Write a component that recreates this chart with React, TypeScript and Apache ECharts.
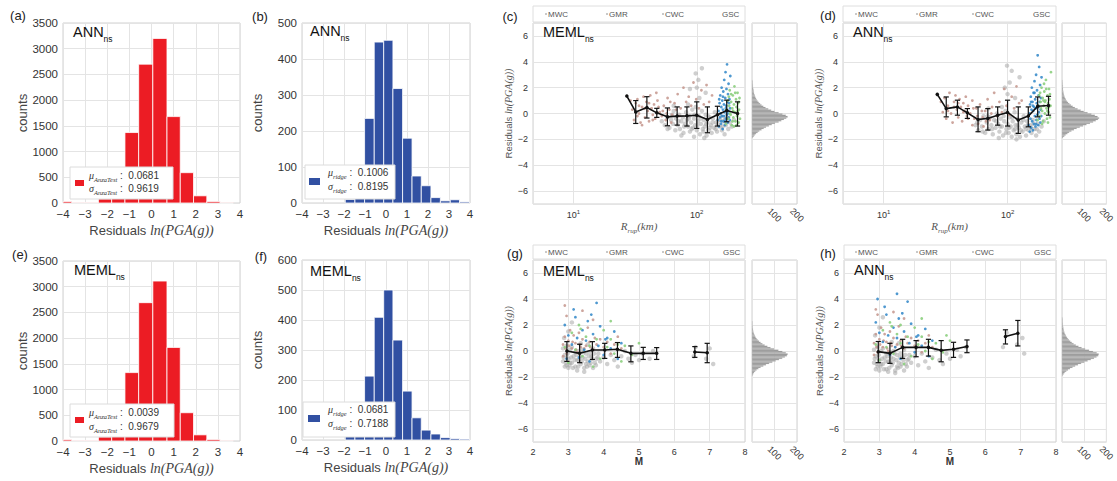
import React, { useEffect, useRef } from 'react';
import * as echarts from 'echarts';

const SANS = '"Liberation Sans", Arial, sans-serif';
const SERIF = '"Liberation Serif", "DejaVu Serif", serif';
const TICK = '#333';
const GRIDLINE = '#e4e4e4';
const BORDER = '#d0d0d0';
const RED = '#ec1c24';
const BLUE = '#3150a2';
const C_GRAY = '#a8a8a8';
const C_BROWN = '#c4958c';
const C_BLUE = '#2f86c8';
const C_GREEN = '#8ccf7e';

// ---------- histogram data (bin edges, counts) ----------
const EDGES_A = [-4.0, -3.6, -3.0, -2.4, -1.8, -1.2, -0.58, 0.06, 0.7, 1.3, 1.9, 2.5, 3.1, 3.7];
const COUNTS_A = [30, 8, 10, 80, 420, 1370, 2700, 3200, 1680, 590, 140, 30, 5];
const EDGES_E = [-4.0, -3.6, -3.0, -2.4, -1.8, -1.2, -0.58, 0.06, 0.7, 1.3, 1.9, 2.5, 3.1, 3.7];
const COUNTS_E = [25, 8, 10, 80, 420, 1330, 2690, 3110, 1820, 550, 120, 30, 5];
const EDGES_B = [-1.94, -1.48, -1.02, -0.56, -0.11, 0.33, 0.79, 1.24, 1.68, 2.14, 2.59, 3.06, 3.5, 3.98];
const COUNTS_B = [10, 50, 235, 447, 452, 318, 180, 75, 48, 15, 6, 9, 3];
const EDGES_F = [-1.94, -1.48, -1.02, -0.56, -0.11, 0.33, 0.79, 1.24, 1.68, 2.14, 2.59, 3.06, 3.5, 3.98];
const COUNTS_F = [12, 40, 213, 409, 500, 333, 163, 74, 33, 20, 8, 5, 3];

const LEGEND_A = { mu: '0.0681', sigma: '0.9619', sub: 'AnzaTest' };
const LEGEND_B = { mu: '0.1006', sigma: '0.8195', sub: 'ridge' };
const LEGEND_E = { mu: '0.0039', sigma: '0.9679', sub: 'AnzaTest' };
const LEGEND_F = { mu: '0.0681', sigma: '0.7188', sub: 'ridge' };

// ---------- marginal histograms: bins of 0.1 starting at -1.9 ----------
const SIDE_START = -1.9;
const SIDE_STEP = 0.1;
const SIDE_C = [3, 8, 12, 18, 25, 32, 42, 52, 62, 75, 88, 102, 118, 130, 142, 152, 158, 150, 135, 118, 100, 85, 72, 60, 50, 42, 36, 30, 25, 21, 18, 15, 13, 11, 9, 8, 7, 6, 5, 4, 3, 3, 2, 2, 1];
const SIDE_D = [4, 10, 16, 24, 32, 42, 54, 66, 80, 95, 110, 126, 140, 152, 162, 167, 160, 148, 132, 115, 98, 84, 70, 58, 48, 40, 33, 27, 22, 18, 15, 12, 10, 8, 7, 6, 5, 4, 4, 3, 3, 2, 2, 1, 1];
const SIDE_G = [2, 5, 9, 14, 20, 28, 38, 50, 62, 76, 90, 105, 120, 134, 146, 155, 158, 150, 135, 117, 98, 82, 68, 56, 46, 38, 31, 25, 20, 16, 13, 10, 8, 6, 5, 4, 3, 2, 2, 1, 1, 1, 0, 0, 0];
const SIDE_H = [3, 7, 12, 19, 27, 36, 47, 59, 72, 86, 100, 115, 130, 144, 155, 163, 165, 156, 140, 122, 104, 88, 74, 62, 52, 44, 37, 31, 26, 22, 18, 15, 12, 10, 8, 7, 6, 5, 4, 3, 3, 2, 2, 2, 1];

// ---------- binned means: [x, mean, low, high] ----------
const MEANS_C = [[27.1, 1.35, 1.35, 1.35], [32, 0.12, -0.77, 1.0], [39.4, 0.46, -0.35, 1.3], [47.4, 0.05, -0.3, 0.4], [57.8, -0.26, -0.95, 0.43], [69.3, -0.2, -0.9, 0.51], [83.2, -0.18, -0.97, 0.51], [100, -0.13, -1.15, 0.9], [122, -0.47, -1.49, 0.51], [147, -0.1, -0.97, 0.56], [175, 0.23, -0.64, 1.03], [214, 0.0, -0.97, 0.9]];
const MEANS_D = [[27.1, 1.48, 1.48, 1.48], [32, 0.38, -0.26, 1.28], [39.4, 0.51, -0.13, 1.03], [47.4, 0.05, -0.38, 0.38], [57.8, -0.46, -1.41, 0.51], [69.3, -0.38, -1.28, 0.38], [83.2, -0.13, -0.9, 0.51], [100, 0.08, -0.97, 1.03], [122, -0.51, -1.54, 0.51], [147, -0.2, -1.03, 0.51], [175, 0.56, -0.26, 1.28], [214, 0.62, -0.13, 1.33]];
const MEANS_G = [[2.96, 0, -0.8, 0.72], [3.32, -0.18, -0.9, 0.52], [3.68, 0.08, -0.65, 0.72], [4.03, 0.08, -0.57, 0.59], [4.39, 0.13, -0.49, 0.65], [4.77, -0.18, -0.83, 0.39], [5.12, -0.18, -0.65, 0.28], [5.5, -0.18, -0.65, 0.26], [6.58, -0.08, -0.49, 0.34], [6.93, -0.13, -0.9, 0.59]];
const MEANS_H = [[2.97, -0.05, -0.9, 0.73], [3.3, -0.18, -0.95, 0.59], [3.66, 0.28, -0.57, 0.9], [4.04, 0.28, -0.44, 0.8], [4.39, 0.28, -0.39, 0.9], [4.75, 0.05, -0.83, 0.8], [5.1, 0.13, -0.49, 0.67], [5.48, 0.35, -0.13, 0.85], [6.57, 1.11, 0.54, 1.63], [6.92, 1.37, 0.39, 2.35]];
// no bin has data between these magnitudes, so the mean line is broken there
const M_EMPTY_FROM = 5.6;
const M_EMPTY_TO = 6.5;

// ---------- residual scatter points: [x, residual] ----------
const C_GRAY_PTS = [[52,-0.6],[55,-0.9],[58,-0.3],[60,-1.1],[62,-0.5],[64,-0.8],[65,0.2],[67,-1.3],[68,-0.4],[70,-0.9],[72,-0.1],[73,-1.2],[75,-0.6],[77,-0.3],[78,-1.5],[80,-0.8],[82,0.1],[83,-0.5],[85,-1.0],[87,-0.2],[88,-1.4],[90,-0.7],[92,0.3],[93,-1.1],[95,-0.4],[97,-0.9],[98,0.5],[100,-1.3],[102,-0.6],[104,-0.2],[106,-1.6],[108,-0.8],[110,0.2],[112,-1.2],[114,-0.5],[116,-1.0],[118,-0.1],[120,-1.7],[122,-0.7],[125,-1.3],[127,-0.3],[130,-0.9],[132,-1.5],[135,-0.4],[138,-1.1],[140,0.1],[143,-0.7],[146,-1.4],[150,-0.5],[153,-1.0],[157,-0.2],[160,-1.3],[164,-0.6],[168,-1.6],[172,-0.9],[176,-0.3],[180,-1.2],[186,-0.7],[192,-1.0],[200,-0.5],[75,-1.7],[95,-1.8],[115,-1.9],[65,0.6],[85,0.7],[105,1.2],[100,2.0],[98,3.1],[103,2.6],[118,1.6],[88,1.9],[110,3.5],[58,-1.2],[63,-0.1],[71,-0.6],[79,-1.0],[86,-0.4],[91,-1.2],[96,-0.1],[101,-0.9],[107,-0.4],[113,-1.4],[119,-0.8],[124,-0.2],[128,-1.1],[134,-0.7],[142,-1.2],[148,-0.8],[155,-0.5],[162,-1.0],[170,-0.4]];
const C_BROWN_PTS = [[30,0.3],[31,-0.5],[32,0.8],[33,-0.2],[33,1.1],[34,0.0],[35,-0.7],[36,0.5],[37,1.3],[38,-0.3],[39,0.9],[40,0.2],[41,-0.6],[42,1.4],[43,0.4],[44,-0.1],[45,0.7],[46,-0.4],[48,1.0],[50,0.1],[52,-0.2],[54,0.6],[56,-0.5],[58,1.2],[60,0.3],[63,-0.1],[66,0.8],[70,1.5],[74,0.4],[78,2.0],[82,0.9],[86,1.3],[90,0.6],[94,2.4],[99,1.1],[104,0.4],[109,1.8],[114,0.7],[120,2.2],[126,0.9],[133,1.4],[36,-0.9],[47,1.6],[62,-0.7],[29,1.0],[34,0.6],[38,0.4],[41,0.8],[44,-0.5],[49,0.5],[53,0.2],[57,0.0],[61,0.9],[68,0.3],[72,-0.2]];
const C_BLUE_PTS = [[148,-0.5],[150,0.2],[151,-1.0],[153,0.8],[154,-0.3],[155,1.4],[156,0.0],[157,-0.8],[158,0.5],[159,2.0],[160,-0.2],[161,1.0],[162,-1.2],[163,0.3],[164,1.7],[165,-0.6],[166,0.7],[167,2.6],[168,0.1],[169,-0.9],[170,1.2],[171,3.2],[172,-0.4],[173,0.6],[174,1.9],[175,-0.1],[176,3.8],[177,0.9],[178,-0.7],[179,1.5],[180,0.2],[181,2.3],[182,-0.3],[183,0.8],[184,1.1],[185,-0.5],[186,0.4],[187,2.9],[152,1.1],[158,-0.6],[166,-0.2],[172,0.4],[178,0.0],[163,1.3],[170,-0.6]];
const C_GREEN_PTS = [[172,-0.8],[175,0.3],[178,1.0],[180,-0.4],[183,0.6],[185,1.8],[188,-0.1],[190,0.9],[192,-0.9],[194,0.4],[196,1.4],[198,-0.3],[200,0.7],[202,2.1],[204,0.1],[206,-0.6],[208,1.1],[210,0.5],[212,-0.2],[214,1.6],[216,0.8],[218,-0.7],[220,0.3],[222,1.2],[224,-0.4],[186,0.0],[195,-0.6],[205,1.6],[215,0.2],[190,1.5],[200,-1.0],[210,-0.9],[182,1.3],[197,0.2],[219,0.9]];

const D_GRAY_PTS = [[55,-0.9],[58,-1.3],[60,-0.5],[62,-1.0],[64,-0.2],[66,-1.5],[68,-0.7],[70,-1.2],[72,-0.3],[74,-0.9],[76,-1.6],[78,-0.5],[80,-1.1],[82,0.0],[84,-0.8],[86,-1.4],[88,-0.4],[90,-1.0],[92,-1.7],[94,-0.6],[96,0.2],[98,-1.2],[100,-0.8],[102,-1.5],[104,-0.3],[106,-1.0],[108,-1.8],[110,-0.6],[112,-1.3],[114,0.1],[116,-0.9],[118,-1.6],[120,-0.4],[123,-1.1],[126,-1.8],[129,-0.7],[132,-1.4],[135,-0.2],[138,-1.0],[141,-1.7],[144,-0.6],[148,-1.3],[152,-0.9],[156,-1.5],[160,-0.5],[165,-1.2],[170,-1.7],[175,-0.8],[180,-1.4],[188,-1.0],[196,-0.6],[70,0.4],[90,0.5],[100,1.5],[104,2.4],[99,3.7],[108,3.3],[95,2.0],[115,1.2],[125,2.8],[85,-1.9],[118,-2.0],[57,-0.7],[63,-1.4],[69,-0.2],[75,-1.2],[81,-0.6],[87,-1.0],[93,-0.2],[97,-1.5],[103,-1.1],[109,-0.3],[115,-1.2],[121,-0.9],[128,-1.3],[134,-0.5],[140,-1.2],[146,-0.9],[154,-1.1],[162,-0.8],[172,-1.2]];
const D_BROWN_PTS = [[29,0.9],[30,0.1],[31,1.2],[32,-0.4],[33,0.6],[34,1.6],[35,0.0],[36,-0.7],[37,0.9],[38,1.4],[39,0.3],[40,-0.3],[41,1.1],[42,0.5],[43,-0.6],[44,0.8],[45,0.2],[46,1.3],[47,-0.2],[48,0.6],[50,0.0],[52,1.0],[54,-0.4],[56,0.4],[58,-0.8],[60,0.7],[63,-0.3],[66,0.2],[69,1.1],[72,-0.5],[75,0.5],[78,1.6],[82,-0.2],[86,0.9],[90,0.1],[94,1.9],[98,0.6],[103,-0.1],[108,1.3],[113,0.4],[118,2.1],[124,0.8],[130,1.0],[52,-0.9],[64,-1.0],[33,0.2],[37,0.5],[40,0.8],[44,0.1],[48,-0.4],[53,0.4],[57,-0.2],[62,0.2],[67,-0.6],[74,0.0]];
const D_BLUE_PTS = [[148,-0.9],[150,0.0],[151,-1.4],[152,0.7],[153,-0.4],[154,1.3],[155,-1.1],[156,0.3],[157,2.0],[158,-0.6],[159,0.9],[160,-1.3],[161,0.2],[162,1.6],[163,-0.8],[164,0.5],[165,2.5],[166,-0.2],[167,1.1],[168,-1.0],[169,0.4],[170,3.0],[171,-0.5],[172,0.8],[173,1.8],[174,-0.1],[175,4.5],[176,0.6],[177,-0.9],[178,1.4],[179,0.1],[180,3.6],[181,-0.4],[182,0.9],[183,2.2],[184,-0.7],[185,0.3],[186,1.2],[187,-0.2],[188,2.8],[160,0.6],[170,-0.8],[178,0.5],[165,1.6],[155,0.9]];
const D_GREEN_PTS = [[175,-0.5],[178,0.6],[180,1.4],[182,-0.2],[185,0.9],[188,2.0],[190,0.2],[192,1.2],[194,-0.6],[196,0.6],[198,1.7],[200,0.0],[202,1.0],[204,2.6],[206,0.4],[208,-0.4],[210,1.4],[212,0.8],[214,0.1],[216,1.9],[218,1.1],[220,-0.3],[222,0.6],[224,3.2],[186,0.4],[195,1.0],[205,1.9],[215,0.5],[190,-0.8],[200,0.9],[210,0.2],[220,1.5],[183,1.6],[197,2.3],[212,-0.7]];

const G_GRAY_PTS = [[2.85,-0.8],[2.9,-0.3],[2.95,-1.1],[3.0,-0.6],[3.05,0.1],[3.1,-0.9],[3.15,-0.4],[3.2,-1.2],[3.25,-0.7],[3.3,0.0],[3.35,-1.0],[3.4,-0.5],[3.45,-1.3],[3.5,-0.2],[3.55,-0.8],[3.6,-1.1],[3.65,-0.4],[3.7,0.2],[3.75,-0.9],[3.8,-0.6],[2.85,0.2],[2.9,-1.2],[2.95,0.4],[3.0,-1.3],[3.05,-0.9],[3.1,0.3],[3.2,-0.1],[3.3,-0.7],[3.4,0.1],[3.5,-1.0],[3.6,-0.1],[3.7,-1.3],[3.85,-0.2],[3.9,-0.8],[4.0,-0.5],[4.1,-1.0],[4.2,-0.3],[4.3,-0.7],[4.4,-1.2],[4.5,-0.4],[4.6,0.0],[4.7,-0.6],[4.8,-0.9],[4.9,-0.3],[5.0,-0.7],[5.1,-0.2],[5.3,-0.6],[5.4,0.0],[6.55,-0.4],[6.6,0.3],[6.9,-0.6],[7.0,0.2],[7.1,-1.0],[2.88,1.0],[3.0,1.5],[3.1,2.2],[3.25,-1.5],[3.45,-1.6],[3.35,0.6],[3.55,0.5],[2.87,-0.5],[2.93,-0.9],[2.98,-0.2],[3.03,-1.1],[3.08,-0.5],[3.13,-1.3],[3.18,-0.7],[3.23,-0.3],[3.28,-1.2],[3.33,-0.4],[3.38,-0.8],[3.43,-0.1],[3.48,-0.6],[3.53,-1.2],[3.58,-0.4],[3.63,-0.9],[3.68,-0.6],[3.73,-0.2],[3.78,-1.1],[3.83,-0.5]];
const G_BROWN_PTS = [[2.85,0.5],[2.9,1.1],[2.95,-0.2],[3.0,0.8],[3.05,1.6],[3.1,0.2],[3.15,1.2],[3.2,0.6],[3.25,-0.1],[3.3,1.4],[3.35,0.3],[3.4,0.9],[3.5,0.4],[3.55,1.8],[3.6,0.7],[3.7,0.1],[3.75,1.0],[3.8,0.5],[3.9,0.9],[4.0,0.3],[4.1,0.7],[4.2,-0.2],[4.3,0.5],[4.4,1.1],[2.9,3.5],[2.95,2.7],[3.4,3.1],[3.7,2.4],[4.5,0.2],[2.85,-0.4],[2.92,0.2],[3.02,0.4],[3.12,0.7],[3.22,0.1],[3.32,0.5],[3.45,0.2],[3.62,0.3]];
const G_BLUE_PTS = [[2.9,2.0],[3.0,1.2],[3.1,0.5],[3.2,2.6],[3.3,-0.5],[3.4,1.6],[3.5,0.8],[3.55,2.3],[3.6,-0.8],[3.7,1.3],[3.8,3.7],[3.85,0.4],[3.9,1.9],[4.0,-0.3],[4.1,1.0],[4.2,0.2],[4.3,1.5],[4.4,-0.6],[4.5,0.6],[3.15,3.2],[3.45,0.1],[3.65,2.8],[4.05,0.9],[3.25,1.0],[2.95,-0.6]];
const G_GREEN_PTS = [[2.9,0.3],[3.0,-0.9],[3.1,1.4],[3.2,0.1],[3.3,2.0],[3.4,-0.4],[3.5,1.1],[3.6,0.4],[3.7,-1.2],[3.8,0.9],[3.9,-0.6],[4.0,1.6],[4.1,0.3],[4.2,0.9],[4.3,-0.2],[4.4,0.5],[4.5,-0.8],[4.6,0.4],[4.8,-0.3],[5.0,0.6],[4.2,2.3],[3.35,1.7]];

const H_GRAY_PTS = [[2.85,-0.9],[2.9,-0.4],[2.95,-1.2],[3.0,-0.7],[3.05,0.0],[3.1,-1.0],[3.15,-0.5],[3.2,-1.4],[3.25,-0.8],[3.3,-0.1],[3.35,-1.1],[3.4,-0.6],[3.45,-1.5],[3.5,-0.3],[3.55,-0.9],[3.6,-1.2],[3.65,-0.5],[3.7,0.1],[3.75,-1.0],[3.8,-0.7],[2.85,0.1],[2.9,-1.4],[2.95,0.3],[3.0,-1.5],[3.05,-1.0],[3.1,0.2],[3.2,-0.2],[3.3,-0.8],[3.4,0.0],[3.5,-1.2],[3.6,-0.2],[3.7,-1.5],[3.85,-0.3],[3.9,-0.9],[4.0,-0.4],[4.1,-1.1],[4.2,-0.2],[4.3,-0.8],[4.4,-1.3],[4.5,-0.5],[4.6,0.1],[4.7,-0.7],[4.8,-1.0],[4.9,-0.2],[5.0,-0.6],[5.2,0.1],[5.3,-0.4],[5.45,0.3],[6.5,0.3],[6.6,1.4],[6.9,0.5],[7.05,1.0],[7.1,-0.2],[2.88,1.2],[3.0,1.8],[3.1,2.6],[3.25,-1.6],[3.45,-1.7],[3.35,0.7],[3.55,0.6],[2.87,-0.6],[2.93,-1.0],[2.98,-0.3],[3.03,-1.2],[3.08,-0.6],[3.13,-1.4],[3.18,-0.8],[3.23,-0.4],[3.28,-1.3],[3.33,-0.5],[3.38,-0.9],[3.43,-0.2],[3.48,-0.7],[3.53,-1.3],[3.58,-0.5],[3.63,-1.0],[3.68,-0.7],[3.73,-0.3],[3.78,-1.2],[3.83,-0.6]];
const H_BROWN_PTS = [[2.85,0.6],[2.9,1.3],[2.95,-0.1],[3.0,0.9],[3.05,1.8],[3.1,0.3],[3.15,1.3],[3.2,0.7],[3.25,0.0],[3.3,1.5],[3.35,0.4],[3.4,1.0],[3.5,0.5],[3.55,1.9],[3.6,0.8],[3.7,0.2],[3.75,1.1],[3.8,0.6],[3.9,1.0],[4.0,0.4],[4.1,0.8],[4.2,-0.1],[4.3,0.6],[4.4,1.2],[2.9,3.2],[2.95,2.8],[3.4,3.0],[3.7,2.5],[4.5,0.3],[2.85,-0.3],[2.92,0.3],[3.02,0.5],[3.12,0.8],[3.22,0.2],[3.32,0.6],[3.45,0.3],[3.62,0.4]];
const H_BLUE_PTS = [[2.9,2.2],[3.0,1.4],[3.1,0.7],[3.2,2.8],[3.3,-0.3],[3.4,1.8],[3.5,1.0],[3.55,2.5],[3.6,-0.6],[3.7,1.5],[3.8,3.8],[3.85,0.6],[3.9,2.1],[4.0,-0.1],[4.1,1.2],[4.2,0.4],[4.3,1.7],[4.4,-0.4],[4.5,0.8],[3.15,3.4],[3.45,0.3],[3.65,2.9],[4.05,1.1],[3.25,1.2],[2.95,4.0],[3.5,4.4]];
const H_GREEN_PTS = [[2.9,0.5],[3.0,-0.7],[3.1,1.6],[3.2,0.3],[3.3,2.2],[3.4,-0.2],[3.5,1.3],[3.6,0.6],[3.7,-1.0],[3.8,1.1],[3.9,-0.4],[4.0,1.8],[4.1,0.5],[4.2,1.1],[4.3,0.0],[4.4,0.7],[4.5,-0.6],[4.6,0.6],[4.8,-0.1],[5.0,0.8],[4.2,2.5],[3.35,1.9],[3.6,2.0],[4.9,1.2]];

const REGIONS = ['MWC', 'GMR', 'CWC', 'GSC'];

const minusFmt = (v: number) => (v < 0 ? '\u2212' + Math.abs(v) : String(v));

function buildOption() {
  const grid: any[] = [];
  const xAxis: any[] = [];
  const yAxis: any[] = [];
  const series: any[] = [];
  const graphic: any[] = [];

  const addGrid = (left: number, top: number, width: number, height: number) => {
    grid.push({ left, top, width, height, show: true, borderColor: BORDER, borderWidth: 1, backgroundColor: '#fff', containLabel: false });
    return grid.length - 1;
  };

  const baseAxis = (gi: number, fs: number) => ({
    gridIndex: gi,
    axisLine: { show: false },
    axisTick: { show: false },
    splitLine: { show: true, lineStyle: { color: GRIDLINE, width: 1 } },
    axisLabel: { color: TICK, fontSize: fs, fontFamily: SANS, margin: 4 },
  });

  const residName = '{n|Residuals }{m|ln(PGA(g))}';

  // ----- histogram panel -----
  const histPanel = (box: number[], edges: number[], counts: number[], color: string, ymax: number, yGap: number) => {
    const gi = addGrid(box[0], box[1], box[2], box[3]);
    const b = baseAxis(gi, 11.5);
    xAxis.push({
      ...b, type: 'value', min: -4, max: 4, interval: 1,
      axisLabel: { ...b.axisLabel, margin: 5, formatter: minusFmt },
      name: residName, nameLocation: 'middle', nameGap: 20,
      nameTextStyle: { color: TICK, rich: { n: { fontFamily: SANS, fontSize: 13, color: '#444' }, m: { fontFamily: SERIF, fontStyle: 'italic', fontSize: 14, color: '#444' } } },
    });
    yAxis.push({
      ...b, type: 'value', min: 0, max: ymax, interval: ymax === 3500 ? 500 : 100,
      axisLabel: { ...b.axisLabel, margin: 5, formatter: (v: number) => String(v) },
      name: 'counts', nameLocation: 'middle', nameGap: yGap,
      nameTextStyle: { color: '#444', fontSize: 13, fontFamily: SANS },
    });
    const data = counts.map((c, i) => [edges[i], edges[i + 1], c]);
    series.push({
      type: 'custom', xAxisIndex: xAxis.length - 1, yAxisIndex: yAxis.length - 1, data,
      encode: { x: [0, 1], y: 2 },
      renderItem: (_p: any, api: any) => {
        const p0 = api.coord([api.value(0), api.value(2)]);
        const p1 = api.coord([api.value(1), 0]);
        return { type: 'rect', shape: { x: p0[0], y: p0[1], width: p1[0] - p0[0], height: p1[1] - p0[1] }, style: { fill: color, stroke: '#fff', lineWidth: 0.8 } };
      },
    });
  };

  // ----- legend box for histograms -----
  const legendBox = (x: number, y: number, w: number, h: number, sw: number[], tx: number, ty1: number, ty2: number, color: string, lg: any) => {
    graphic.push({ type: 'rect', z: 100, shape: { x, y, width: w, height: h }, style: { fill: '#fff', stroke: '#dcdcdc', lineWidth: 1 } });
    graphic.push({ type: 'rect', z: 101, shape: { x: sw[0], y: sw[1], width: sw[2], height: sw[3] }, style: { fill: color } });
    const rich = {
      g: { fontFamily: SERIF, fontStyle: 'italic', fontSize: 10, fill: '#333', lineHeight: 12, verticalAlign: 'top' },
      s: { fontFamily: SERIF, fontStyle: 'italic', fontSize: 6.5, fill: '#333', lineHeight: 8, verticalAlign: 'top', padding: [6, 0, 0, 0] },
      n: { fontFamily: SANS, fontSize: 10, fill: '#333', lineHeight: 12, verticalAlign: 'top' },
    };
    graphic.push({ type: 'text', z: 101, x: tx, y: ty1 - 6, style: { text: `{g|\u03bc}{s|${lg.sub}}{n| :  ${lg.mu}}`, rich, verticalAlign: 'top' } });
    graphic.push({ type: 'text', z: 101, x: tx, y: ty2 - 6, style: { text: `{g|\u03c3}{s|${lg.sub}}{n| :  ${lg.sigma}}`, rich, verticalAlign: 'top' } });
  };

  // ----- scatter panel -----
  const scatterPanel = (box: number[], isLog: boolean, pts: any, means: number[][]) => {
    const gi = addGrid(box[0], box[1], box[2], box[3]);
    const b = baseAxis(gi, 9);
    if (isLog) {
      xAxis.push({
        ...b, type: 'log', logBase: 10, min: 4.7, max: 246,
        axisLabel: {
          ...b.axisLabel, margin: 5,
          formatter: (v: number) => {
            const l = Math.log10(v);
            return Math.abs(l - Math.round(l)) < 1e-6 ? `{b|10}{e|${Math.round(l)}}` : '';
          },
          rich: { b: { fontSize: 9, fontFamily: SANS, color: TICK }, e: { fontSize: 6, fontFamily: SANS, color: TICK, verticalAlign: 'top', padding: [0, 0, 5, 0] } },
        },
        name: '{r|R}{s|rup}{t|(km)}', nameLocation: 'middle', nameGap: 16,
        nameTextStyle: {
          rich: {
            r: { fontFamily: SERIF, fontStyle: 'italic', fontSize: 11, color: '#555', lineHeight: 13, verticalAlign: 'top' },
            s: { fontFamily: SERIF, fontStyle: 'italic', fontSize: 7, color: '#555', lineHeight: 8, verticalAlign: 'top', padding: [7, 0, 0, 0] },
            t: { fontFamily: SERIF, fontStyle: 'italic', fontSize: 11, color: '#555', lineHeight: 13, verticalAlign: 'top' },
          },
        },
      });
    } else {
      xAxis.push({
        ...b, type: 'value', min: 2, max: 8, interval: 1,
        axisLabel: { ...b.axisLabel, margin: 5 },
        name: 'M', nameLocation: 'middle', nameGap: 14,
        nameTextStyle: { fontFamily: SANS, fontSize: 10, fontWeight: 'bold', color: '#333' },
      });
    }
    yAxis.push({
      ...b, type: 'value', min: -7, max: 7, splitNumber: 7,
      axisLabel: { ...b.axisLabel, margin: 5, formatter: (v: number) => (Math.abs(v) === 7 ? '' : minusFmt(v)) },
      name: residName, nameLocation: 'middle', nameGap: 17,
      nameTextStyle: { rich: { n: { fontFamily: SANS, fontSize: 9.5, color: '#555' }, m: { fontFamily: SERIF, fontStyle: 'italic', fontSize: 10, color: '#555' } } },
    });
    const xi = xAxis.length - 1, yi = yAxis.length - 1;
    const sc = (data: number[][], color: string, size: number, op: number) => series.push({
      type: 'scatter', xAxisIndex: xi, yAxisIndex: yi, data, symbolSize: size, itemStyle: { color, opacity: op }, silent: true,
    });
    sc(pts.gray, C_GRAY, 4.5, 0.55);
    sc(pts.brown, C_BROWN, 2.8, 0.85);
    sc(pts.blue, C_BLUE, 2.8, 0.85);
    sc(pts.green, C_GREEN, 2.8, 0.9);
    const lineData: any[] = [];
    means.forEach((m, i) => {
      lineData.push([m[0], m[1]]);
      const nx = i < means.length - 1 ? means[i + 1][0] : null;
      if (!isLog && nx !== null && m[0] < M_EMPTY_FROM && nx > M_EMPTY_TO) lineData.push([(M_EMPTY_FROM + M_EMPTY_TO) / 2, '-']);
    });
    series.push({
      type: 'line', xAxisIndex: xi, yAxisIndex: yi, data: lineData, symbol: 'circle', symbolSize: 3.5, z: 5,
      lineStyle: { color: '#111', width: 1.6 }, itemStyle: { color: '#111' }, connectNulls: false,
    });
    series.push({
      type: 'custom', xAxisIndex: xi, yAxisIndex: yi, z: 6,
      data: means.filter((m) => m[3] > m[2]).map((m) => [m[0], m[2], m[3]]),
      encode: { x: 0, y: [1, 2] },
      renderItem: (_p: any, api: any) => {
        const a = api.coord([api.value(0), api.value(2)]);
        const c = api.coord([api.value(0), api.value(1)]);
        const w = 2.6;
        const st = { stroke: '#111', lineWidth: 1.2 };
        return {
          type: 'group', children: [
            { type: 'line', shape: { x1: a[0], y1: a[1], x2: c[0], y2: c[1] }, style: st },
            { type: 'line', shape: { x1: a[0] - w, y1: a[1], x2: a[0] + w, y2: a[1] }, style: st },
            { type: 'line', shape: { x1: c[0] - w, y1: c[1], x2: c[0] + w, y2: c[1] }, style: st },
          ],
        };
      },
    });
  };

  // ----- marginal histogram -----
  const sidePanel = (box: number[], counts: number[]) => {
    const gi = addGrid(box[0], box[1], box[2], box[3]);
    const b = baseAxis(gi, 9);
    xAxis.push({
      ...b, type: 'value', min: 0, max: 200, interval: 100,
      axisLabel: { ...b.axisLabel, rotate: -45, margin: 11, align: 'center', verticalAlign: 'middle', formatter: (v: number) => (v === 0 ? '' : String(v)) },
    });
    yAxis.push({ ...b, type: 'value', min: -7, max: 7, splitNumber: 7, axisLabel: { show: false } });
    const data = counts.map((c, i) => [SIDE_START + i * SIDE_STEP, SIDE_START + (i + 1) * SIDE_STEP, c]).filter((d) => d[2] > 0);
    series.push({
      type: 'custom', xAxisIndex: xAxis.length - 1, yAxisIndex: yAxis.length - 1, data,
      encode: { x: 2, y: [0, 1] },
      renderItem: (_p: any, api: any) => {
        const p0 = api.coord([0, api.value(1)]);
        const p1 = api.coord([api.value(2), api.value(0)]);
        return { type: 'rect', shape: { x: p0[0], y: p0[1], width: p1[0] - p0[0], height: p1[1] - p0[1] }, style: { fill: '#8c8c8c', stroke: '#d8d8d8', lineWidth: 0.3 } };
      },
    });
  };

  // ----- top strip with region names -----
  const strip = (x: number, y: number, w: number, h: number, xs: number[]) => {
    graphic.push({ type: 'rect', shape: { x, y, width: w, height: h }, style: { fill: '#fff', stroke: '#dedede', lineWidth: 1 } });
    REGIONS.forEach((r, i) => {
      if (i < 3) graphic.push({ type: 'line', shape: { x1: xs[i] - 3, y1: y + h / 2, x2: xs[i] - 1, y2: y + h / 2 }, style: { stroke: '#777', lineWidth: 0.8 } });
      graphic.push({ type: 'text', x: xs[i], y: y + h / 2, style: { text: r, fontFamily: SANS, fontSize: 8, fill: '#555', verticalAlign: 'middle' } });
    });
  };

  const label = (t: string, x: number, y: number) => graphic.push({ type: 'text', x, y, style: { text: t, fontFamily: SANS, fontSize: 13, fill: '#222', align: 'center', verticalAlign: 'middle' } });
  const model = (t: string, x: number, y: number) => graphic.push({
    type: 'text', x, y: y - 8, z: 50,
    style: {
      text: `{m|${t}}{s|ns}`, verticalAlign: 'top',
      rich: {
        m: { fontFamily: SANS, fontSize: 14.5, fill: '#111', lineHeight: 16, verticalAlign: 'top' },
        s: { fontFamily: SANS, fontSize: 8.5, fill: '#111', lineHeight: 10, verticalAlign: 'top', padding: [10, 0, 0, 0] },
      },
    },
  });

  // histograms
  histPanel([63, 23, 177, 180], EDGES_A, COUNTS_A, RED, 3500, 34);
  histPanel([302, 23, 168, 180], EDGES_B, COUNTS_B, BLUE, 500, 38);
  histPanel([63, 261, 177, 180], EDGES_E, COUNTS_E, RED, 3500, 34);
  histPanel([302, 260, 168, 180], EDGES_F, COUNTS_F, BLUE, 600, 38);

  legendBox(70, 167, 103, 32, [75, 180, 9, 6], 89, 176, 189, RED, LEGEND_A);
  legendBox(305, 165, 90, 34, [309, 178, 11, 7], 328, 173, 187, BLUE, LEGEND_B);
  legendBox(70, 404, 104, 33, [75, 417, 9, 6], 89, 413, 427, RED, LEGEND_E);
  legendBox(303, 402, 92, 35, [308, 415, 12, 7], 328, 410, 424, BLUE, LEGEND_F);

  // residual panels
  scatterPanel([533, 23, 212, 181], true, { gray: C_GRAY_PTS, brown: C_BROWN_PTS, blue: C_BLUE_PTS, green: C_GREEN_PTS }, MEANS_C);
  sidePanel([752, 23, 45, 181], SIDE_C);
  scatterPanel([843, 23, 213, 181], true, { gray: D_GRAY_PTS, brown: D_BROWN_PTS, blue: D_BLUE_PTS, green: D_GREEN_PTS }, MEANS_D);
  sidePanel([1062, 23, 45, 181], SIDE_D);
  scatterPanel([533, 260, 212, 182], false, { gray: G_GRAY_PTS, brown: G_BROWN_PTS, blue: G_BLUE_PTS, green: G_GREEN_PTS }, MEANS_G);
  sidePanel([752, 260, 45, 182], SIDE_G);
  scatterPanel([844, 260, 212, 182], false, { gray: H_GRAY_PTS, brown: H_BROWN_PTS, blue: H_BLUE_PTS, green: H_GREEN_PTS }, MEANS_H);
  sidePanel([1062, 260, 45, 182], SIDE_H);

  strip(533, 6, 212, 16, [548, 609, 665, 722]);
  strip(843, 6, 213, 16, [858, 919, 975, 1033]);
  strip(533, 245, 212, 14, [548, 609, 665, 723]);
  strip(844, 245, 212, 14, [858, 919, 975, 1034]);

  label('(a)', 18, 15);
  label('(b)', 260, 16);
  label('(c)', 510, 16);
  label('(d)', 828, 15);
  label('(e)', 20, 254);
  label('(f)', 261, 256);
  label('(g)', 515, 253);
  label('(h)', 828, 253);

  model('ANN', 73, 32);
  model('ANN', 310, 31);
  model('MEML', 543, 32);
  model('ANN', 853, 32);
  model('MEML', 74, 270);
  model('MEML', 310, 271);
  model('MEML', 543, 271);
  model('ANN', 854, 270);

  return { animation: false, backgroundColor: '#fff', grid, xAxis, yAxis, series, graphic };
}

export default function App() {
  const ref = useRef<HTMLDivElement>(null);
  useEffect(() => {
    const chart = echarts.init(ref.current!, null, { renderer: 'svg' });
    chart.setOption(buildOption() as any);
    return () => chart.dispose();
  }, []);
  return <div ref={ref} style={{ position: 'fixed', left: 0, top: 0, width: 1117, height: 481, background: '#fff' }} />;
}
